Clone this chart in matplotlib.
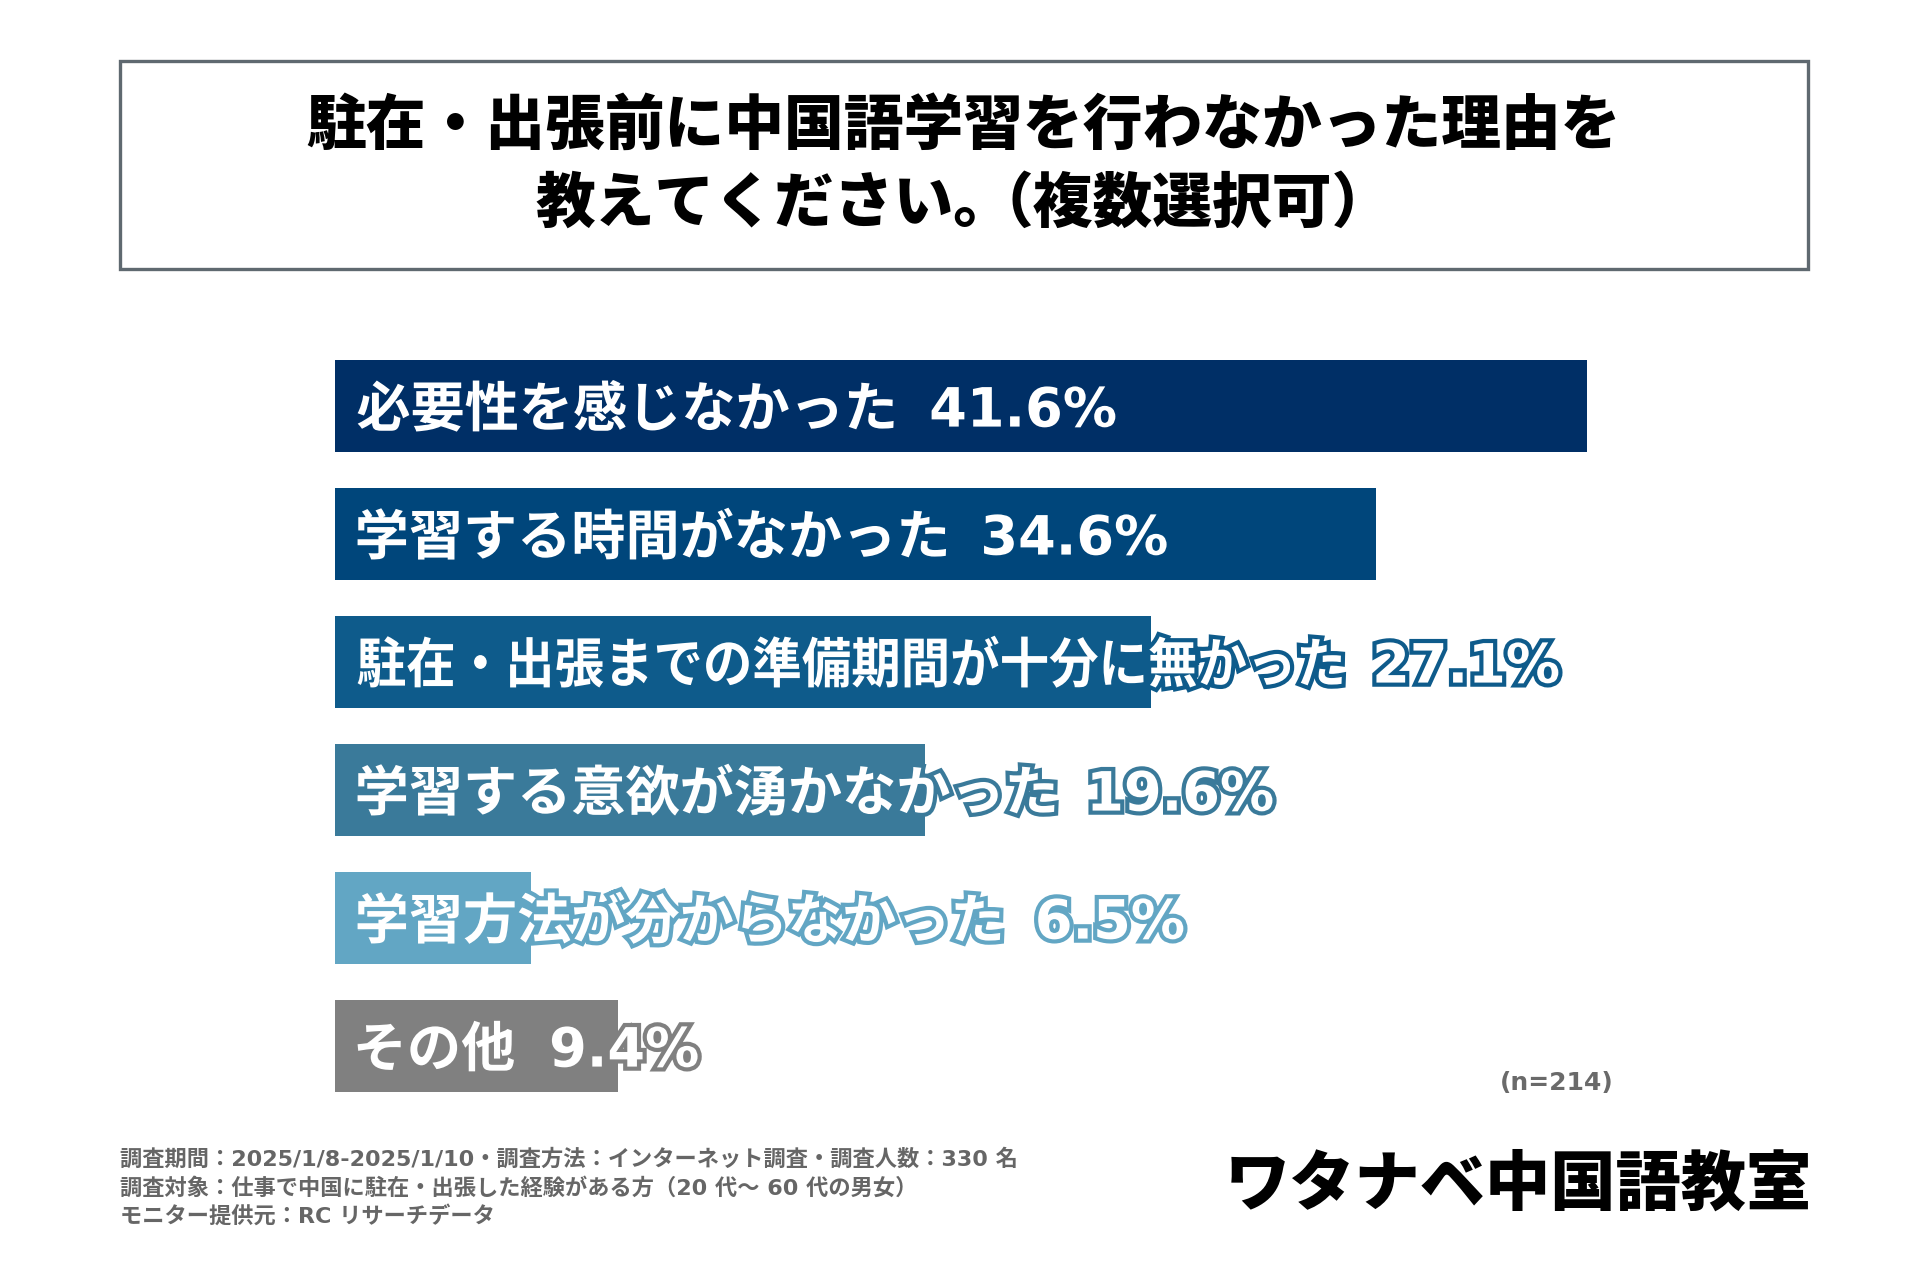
import matplotlib
matplotlib.use("Agg")
import matplotlib.pyplot as plt
import matplotlib.patheffects as pe
from matplotlib.patches import Rectangle, PathPatch
from matplotlib.textpath import TextPath
from matplotlib.font_manager import FontProperties
from matplotlib.transforms import Affine2D, IdentityTransform

plt.rcParams['font.family'] = ['Noto Sans CJK JP', 'DejaVu Sans']
latin_first = ['DejaVu Sans', 'Noto Sans CJK JP']

# data
labels = ["必要性を感じなかった", "学習する時間がなかった",
          "駐在・出張までの準備期間が十分に無かった", "学習する意欲が湧かなかった",
          "学習方法が分からなかった", "その他"]
values = [41.6, 34.6, 27.1, 19.6, 6.5, 9.4]
colors = ["#002f66", "#00467b", "#0e5b8b", "#3a7a9a", "#62a6c4", "#808080"]

title_1 = "駐在・出張前に中国語学習を行わなかった理由を"
title_2a = "教えてください。"
title_2b = "（複数選択可）"
note_n = "(n=214)"
footer = ["調査期間：2025/1/8-2025/1/10・調査方法：インターネット調査・調査人数：330 名",
          "調査対象：仕事で中国に駐在・出張した経験がある方（20 代～ 60 代の男女）",
          "モニター提供元：RC リサーチデータ"]
brand = "ワタナベ中国語教室"

W, H = 1920, 1280
fig = plt.figure(figsize=(W / 100, H / 100), dpi=100)
fig.patch.set_facecolor("white")

# title box
fig.patches.append(Rectangle((120 / W, 1 - 269 / H), (1808 - 120) / W, (269 - 61) / H,
                             transform=fig.transFigure, facecolor="white",
                             edgecolor="#5f6970", linewidth=2.4))
cx = (120 + 1808) / 2
tkw = dict(fontsize=43, fontweight="black", color="black", va="center")
fig.text(cx / W, 1 - 126 / H, title_1, ha="center", **tkw)
t2a = fig.text(0, 1 - 204 / H, title_2a, ha="left", **tkw)
t2b = fig.text(0, 1 - 204 / H, title_2b, ha="left", **tkw)
fig.canvas.draw()
r = fig.canvas.get_renderer()
w1 = t2a.get_window_extent(r).width
w2 = t2b.get_window_extent(r).width
tight = 40
x0 = cx - (w1 + w2 - tight) / 2
t2a.set_x(x0 / W)
t2b.set_x((x0 + w1 - tight) / W)

# bars
ax = fig.add_axes([335 / W, 1 - 1150 / H, (W - 335) / W, 850 / H])
px_per_pct = 30.1
ax.set_xlim(0, (W - 335) / px_per_pct)
ax.set_ylim((1150 - 406) / 128, -106 / 128)
ypos = list(range(len(values)))
ax.barh(ypos, values, height=0.72, color=colors, edgecolor="none")
ax.axis("off")

fp_jp = FontProperties(family=['Noto Sans CJK JP', 'DejaVu Sans'], weight='bold')
fp_num = FontProperties(family=latin_first, weight='bold')
em = 39 * 100 / 72
stretch = [1, 1, 0.913, 1, 1, 1]


def draw_label(s, fp, x_left, y_base, sx, edge):
    tp = TextPath((0, 0), s, size=em, prop=fp)
    ext = tp.get_extents()
    tr = Affine2D().translate(-ext.x0, 0).scale(sx, 1).translate(x_left, y_base)
    patch = PathPatch(tr.transform_path(tp), facecolor="white", edgecolor="none",
                      transform=IdentityTransform(),
                      path_effects=[pe.withStroke(linewidth=6, foreground=edge)])
    fig.add_artist(patch)
    return x_left + (ext.x1 - ext.x0) * sx


for y, lab, v, c, sx in zip(ypos, labels, values, colors, stretch):
    xl, yc = ax.transData.transform((0.75, y))
    base = yc - 0.38 * em
    x_end = draw_label(lab, fp_jp, xl, base, sx, c)
    draw_label(f"{v}%", fp_num, x_end + 38 * sx, base, 1, c)

fig.text(1614 / W, 1 - 1083 / H, note_n, ha="right", va="center", fontsize=18,
         fontweight="bold", family=latin_first, color="#6a6a6a")

for i, line in enumerate(footer):
    fig.text(120 / W, 1 - (1159 + 28.5 * i) / H, line, ha="left", va="center",
             fontsize=16, fontweight="bold", family=latin_first, color="#666666")

fig.text(1812 / W, 1 - 1185 / H, brand, ha="right", va="center", fontsize=47,
         fontweight="black", color="black")

fig.savefig("out.png", dpi=100)
